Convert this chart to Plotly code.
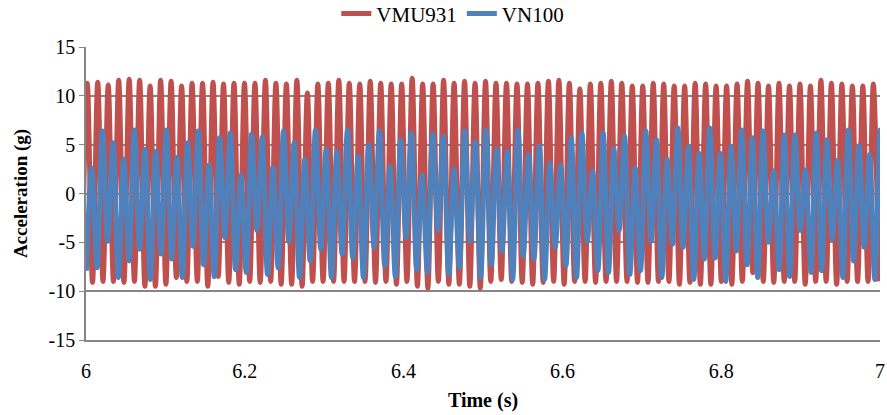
import numpy as np
import plotly.graph_objects as go

# VMU931 (red) - peak and trough values, in time order
vmu_peaks = [11.3, 11.4, 11.1, 11.6, 11.7, 11.6, 11.0, 11.6, 11.5, 11.0, 11.3, 11.3, 11.4,
             11.2, 11.3, 11.3, 11.3, 11.6, 11.3, 11.2, 11.6, 10.3, 11.2, 11.3, 11.6, 11.3,
             11.2, 11.5, 11.3, 11.2, 11.2, 11.8, 11.2, 11.2, 11.6, 11.3, 11.5, 11.3,
             11.5, 11.3, 11.3, 11.2, 11.2, 11.3, 11.5, 11.6, 11.3, 10.7, 11.2, 11.3, 11.5,
             11.3, 11.0, 11.0, 11.3, 11.2, 11.0, 11.0, 11.3, 11.2, 11.0, 11.0, 11.2,
             11.5, 11.3, 11.0, 11.3, 11.0, 11.2, 11.0, 11.6, 11.3, 11.2, 11.0, 11.0, 11.2]
vmu_troughs = [-9.4, -9.1, -9.0, -9.0, -9.1, -9.0, -9.5, -9.5, -9.3, -8.6, -9.0, -9.0, -9.5, -8.5,
               -9.1, -9.3, -9.0, -9.1, -9.0, -9.3, -9.3, -9.5, -9.0, -9.0, -9.0, -9.0, -9.0,
               -9.0, -9.1, -9.0, -9.3, -9.0, -9.5, -9.7, -9.0, -9.3, -9.3, -9.5, -9.7,
               -9.0, -8.8, -9.0, -9.1, -9.3, -9.1, -9.0, -9.3, -9.0, -9.0, -9.1, -9.0, -9.0,
               -9.0, -9.1, -9.1, -9.0, -9.0, -9.3, -9.1, -9.3, -9.3, -9.0, -9.3, -9.0,
               -8.1, -9.0, -9.1, -9.0, -9.0, -9.3, -9.0, -9.0, -9.3, -9.0, -9.0, -9.0, -9.0]

# VN100 (blue) - peak and trough values, in time order
vn_peaks = [2.6, 6.4, 5.2, 3.5, 6.5, 4.5, 4.3, 6.5, 3.7, 5.2, 6.4, 2.9, 5.7,
            6.2, 1.9, 6.1, 5.8, 2.7, 6.4, 5.2, 3.5, 6.5, 4.5, 4.3, 6.5,
            3.8, 5.0, 6.4, 2.8, 5.5, 6.2, 1.9, 6.1, 5.9, 2.5, 6.4, 5.3,
            6.5, 4.5, 4.3, 6.5, 4.0, 4.9, 3.1, 2.9, 5.7, 6.2, 2.3, 6.2, 4.6,
            5.9, 2.6, 6.4, 5.5, 3.5, 6.7, 4.8, 4.1, 6.7, 4.1, 4.8, 6.5,
            5.7, 6.4, 2.3, 6.0, 6.0, 2.4, 6.2, 5.5, 3.4, 6.5, 4.9, 4.0, 6.5]
vn_troughs = [-7.9, -7.6, -4.9, -8.6, -6.9, -5.7, -8.8, -6.2, -6.7, -8.6, -5.4, -7.3, -8.5,
              -4.5, -7.8, -8.1, -3.8, -8.3, -7.6, -4.9, -8.6, -6.9, -5.7, -8.6, -6.2,
              -6.6, -8.6, -5.5, -7.4, -8.5, -4.5, -7.8, -8.1, -3.8, -8.3, -7.6, -4.9, -8.6,
              -7.3, -5.9, -8.8, -6.4, -6.7, -8.8, -5.5, -7.4, -8.6, -4.9, -7.9, -8.1, -3.8,
              -8.3, -7.9, -4.9, -8.6, -5.2, -5.5, -8.8, -6.7, -6.6, -9.0, -5.9, -7.3,
              -8.6, -5.0, -7.8, -8.5, -3.8, -8.1, -7.9, -4.7, -8.6, -6.9, -5.5, -8.8, -6.7]

x_ticks = [6, 6.2, 6.4, 6.6, 6.8, 7]
x_labels = ['6', '6.2', '6.4', '6.6', '6.8', '7']
y_ticks = [-15, -10, -5, 0, 5, 10, 15]
y_labels = ['-15', '-10', '-5', '0', '5', '10', '15']

vmu_start, vmu_half_period = 5.995, 0.0066
vn_start, vn_half_period = 6.0005, 0.00671


def interleave(troughs, peaks):
    out = []
    for i in range(max(len(troughs), len(peaks))):
        if i < len(troughs):
            out.append(troughs[i])
        if i < len(peaks):
            out.append(peaks[i])
    return out


vmu = interleave(vmu_troughs, vmu_peaks)
vn = interleave(vn_troughs, vn_peaks)
t_vmu = vmu_start + vmu_half_period * np.arange(len(vmu))
t_vn = vn_start + vn_half_period * np.arange(len(vn))

font_name = "Liberation Serif, Times New Roman, serif"

fig = go.Figure()
fig.add_trace(go.Scatter(x=t_vmu, y=vmu, name='VMU931', mode='lines',
                         line=dict(color='#C0504D', width=5, shape='spline')))
fig.add_trace(go.Scatter(x=t_vn, y=vn, name='VN100', mode='lines',
                         line=dict(color='#4F81BD', width=5, shape='spline')))

fig.update_layout(
    width=887, height=415,
    margin=dict(l=86, r=7, t=47, b=75, autoexpand=False),
    paper_bgcolor='white', plot_bgcolor='white',
    font=dict(family=font_name, size=20, color='black'),
    legend=dict(orientation='h', x=0.462, xanchor='center', y=1.113, yanchor='middle',
                font=dict(size=21), traceorder='normal'),
    xaxis=dict(range=[6, 7.00001], tickvals=x_ticks, ticktext=x_labels,
               showgrid=False, zeroline=False, showline=True, linecolor='#868686',
               linewidth=1.5, ticks='', ticklabelstandoff=12, automargin=False,
               title=dict(text='<b>Time (s)</b>', font=dict(size=20), standoff=12)),
    yaxis=dict(range=[-15, 15], tickvals=y_ticks, ticktext=y_labels,
               showgrid=True, gridcolor='#868686', gridwidth=1.5, zeroline=False,
               showline=True, linecolor='#868686', linewidth=1.5,
               ticks='outside', ticklen=5, tickcolor='#868686', automargin=False,
               title=dict(text='<b>Acceleration (g)</b>', font=dict(size=19), standoff=16)),
)

# drop the default page margin so the chart sits at the window's corner
fig.write_html("out.html", config={'displayModeBar': False},
               post_script="document.body.style.margin='0';")
